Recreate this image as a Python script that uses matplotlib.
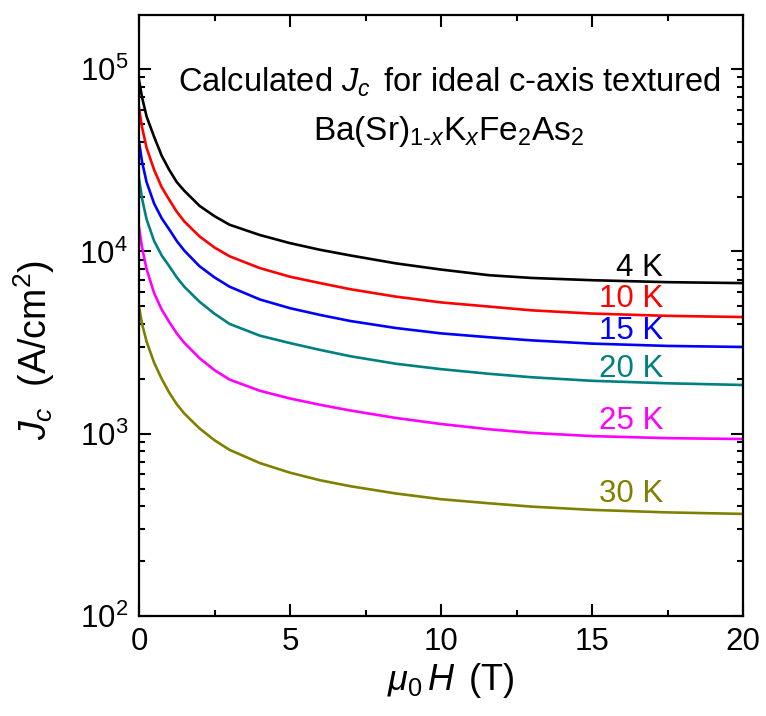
import matplotlib
matplotlib.use("Agg")
import matplotlib.pyplot as plt
from matplotlib.ticker import LogLocator, MultipleLocator, NullFormatter

plt.rcParams['font.family'] = ['Liberation Sans', 'DejaVu Sans']
plt.rcParams['mathtext.fontset'] = 'custom'
plt.rcParams['mathtext.rm'] = 'Liberation Sans'
plt.rcParams['mathtext.it'] = 'Liberation Sans:italic'
plt.rcParams['mathtext.bf'] = 'Liberation Sans:bold'

# Field values (T)
field = [0, 0.1, 0.25, 0.5, 0.75, 1, 1.25, 1.5, 2, 2.5, 3, 4, 5, 6, 7, 8.5, 10, 11.6, 13, 15, 17.5, 20]

# Jc values (A/cm^2) per temperature
jc_4K = [87000, 70000, 55000, 42500, 33500, 28000, 24000, 21500, 17800, 15600, 14000, 12300, 11100,
         10200, 9500, 8600, 7950, 7400, 7150, 6950, 6780, 6700]
jc_10K = [61000, 48000, 37000, 28000, 22500, 19200, 16500, 14600, 12100, 10500, 9400, 8100, 7260,
          6700, 6200, 5650, 5250, 4980, 4750, 4560, 4430, 4365]
jc_15K = [40000, 31000, 24000, 18300, 15200, 13200, 11400, 10100, 8300, 7200, 6400, 5450, 4880,
          4480, 4150, 3800, 3550, 3380, 3250, 3120, 3030, 2990]
jc_20K = [25000, 19500, 15000, 11400, 9500, 8300, 7200, 6400, 5300, 4550, 4000, 3450, 3140,
          2880, 2660, 2420, 2260, 2130, 2040, 1950, 1890, 1850]
jc_25K = [13500, 10500, 8000, 5900, 4800, 4100, 3550, 3150, 2600, 2230, 1980, 1720, 1560,
          1440, 1340, 1220, 1130, 1057, 1010, 970, 945, 935]
jc_30K = [4980, 4000, 3200, 2450, 2000, 1680, 1450, 1290, 1070, 920, 815, 690, 611,
          555, 515, 470, 437, 415, 398, 382, 370, 363]

series = [jc_4K, jc_10K, jc_15K, jc_20K, jc_25K, jc_30K]
labels = ["4 K", "10 K", "15 K", "20 K", "25 K", "30 K"]
colors = ["#000000", "#ff0000", "#0000ff", "#008080", "#ff00ff", "#808000"]
label_y = [8100, 5480, 3660, 2265, 1175, 467]

fig = plt.figure(figsize=(7.66, 7.16), dpi=100)
ax = fig.add_axes([0.1815, 0.1397, 0.7885, 0.8393])

for ys, c in zip(series, colors):
    ax.plot(field, ys, color=c, lw=1.9)

for lab, c, ly in zip(labels, colors, label_y):
    ax.text(17.35, ly, lab, color=c, fontsize=22.5, ha='right', va='center')

ax.set_yscale('log')
ax.set_xlim(0, 20)
ax.set_ylim(100, 1.98e5)
ax.xaxis.set_major_locator(MultipleLocator(5))
ax.xaxis.set_minor_locator(MultipleLocator(2.5))
ax.yaxis.set_major_locator(LogLocator(base=10, numticks=10))
ax.yaxis.set_minor_locator(LogLocator(base=10, subs=range(2, 10), numticks=20))
ax.yaxis.set_minor_formatter(NullFormatter())

ax.tick_params(which='both', direction='in', top=True, right=True, width=1.5)
ax.tick_params(which='major', length=8.5, labelsize=22.5, pad=8)
ax.tick_params(which='minor', length=4.5)
for s in ax.spines.values():
    s.set_linewidth(1.6)

ax.set_xlabel(r"$\mu_{\mathit{0}}\,H\,$ (T)", fontsize=26)
ax.set_ylabel(r"$J_{c}\ \ $(A/cm$^2$)", fontsize=27)
ax.xaxis.set_label_coords(0.517, -0.075)
ax.yaxis.set_label_coords(-0.136, 0.443)

ax.text(0.513, 0.872, r"Calculated $J_{c}\,$ for ideal c-axis textured", transform=ax.transAxes,
        fontsize=23.5, ha='center', va='baseline')
ax.text(0.513, 0.792, r"Ba(Sr)$_{1\text{-}x}$K$_x$Fe$_2$As$_2$", transform=ax.transAxes,
        fontsize=24, ha='center', va='baseline')

fig.savefig("out.png", dpi=100)
